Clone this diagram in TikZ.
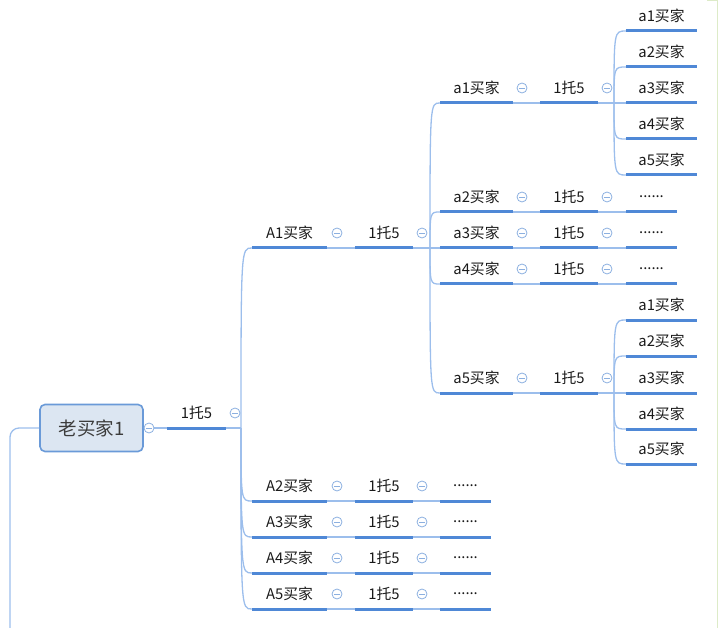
\documentclass[tikz,border=0pt]{standalone}
\usepackage{fontspec}
\newfontfamily\cjk{Noto Sans CJK SC}

\definecolor{rootfill}{HTML}{DCE6F2}
\definecolor{rootline}{HTML}{6A9AD8}
\definecolor{uline}{HTML}{4F88D6}
\definecolor{thin}{HTML}{9CBEEC}
\definecolor{foldc}{HTML}{8CB0E0}
\definecolor{txt}{HTML}{1A1A1A}
\definecolor{framec}{HTML}{DDEBC8}

\tikzset{
  under/.style={draw=uline,line width=3pt},
  link/.style={draw=thin,line width=1.3pt},
  topic/.style={anchor=south,inner sep=0pt,minimum width=#1pt,minimum height=30pt,
                text=txt,font=\cjk\fontsize{14.8}{17}\selectfont,
                append after command={(\tikzlastnode.south west) edge[under] (\tikzlastnode.south east)}},
  fold/.style={circle,draw=foldc,fill=white,line width=0.8pt,minimum size=10pt,inner sep=0pt,
               path picture={\draw[foldc,line width=0.8pt]
                 ([xshift=-2.6pt]path picture bounding box.center) --
                 ([xshift=2.6pt]path picture bounding box.center);}}
}

\begin{document}
\begin{tikzpicture}[x=1pt,y=-1pt]
\useasboundingbox (0,0) rectangle (720,628);
\draw[framec,line width=0.8pt] (707,0.5) -- (717,0.5) -- (717,628);

\node[draw=rootline,fill=rootfill,line width=1.6pt,rounded corners=5pt,
      minimum width=103pt,minimum height=47pt,text=txt!85,
      font=\cjk\fontsize{18.5}{20}\selectfont] (old) at (91.5,428) {老买家1};
\coordinate (down) at (10,628);
\draw[link,rounded corners=9pt] (old.west) -- (old.west -| down) -- (down);

\node[topic=59] (t0) at (196.5,428) {1托5};
\coordinate (br0) at (241,428);

\foreach \i/\y in {1/248,2/501,3/537,4/573,5/609} {
  \node[topic=75] (A\i) at (289.5,\y) {A\i{}买家};
  \node[topic=58] (tA\i) at (384,\y) {1托5};
}
\foreach \i/\y in {2/501,3/537,4/573,5/609}
  \node[topic=51] (dA\i) at (465.5,\y) {......};

\coordinate (brA) at (430,248);
\foreach \j/\y in {1/103,2/212,3/248,4/284,5/393} {
  \node[topic=73] (a\j) at (476.5,\y) {a\j{}买家};
  \node[topic=58] (ta\j) at (569,\y) {1托5};
}
\foreach \j/\y in {2/212,3/248,4/284}
  \node[topic=51] (da\j) at (651.5,\y) {......};

\coordinate (br1) at (614,103);
\coordinate (br5) at (614,393);
\foreach \k/\y in {1/31,2/67,3/103,4/139,5/175}
  \node[topic=71] (b1\k) at (661.5,\y) {a\k{}买家};
\foreach \k/\y in {1/320,2/356,3/393,4/429,5/464}
  \node[topic=71] (b5\k) at (661.5,\y) {a\k{}买家};

\draw[link] (old.east) -- (t0.south west);
\draw[link] (t0.south east) -- (br0);
\foreach \i in {1,...,5} {
  \draw[link] (br0) .. controls (br0 |- A\i.south west) .. (A\i.south west);
  \draw[link] (A\i.south east) -- (tA\i.south west);
}
\foreach \i in {2,...,5}
  \draw[link] (tA\i.south east) -- (dA\i.south west);
\draw[link] (tA1.south east) -- (brA);
\foreach \j in {1,...,5} {
  \draw[link] (brA) .. controls (brA |- a\j.south west) .. (a\j.south west);
  \draw[link] (a\j.south east) -- (ta\j.south west);
}
\foreach \j in {2,3,4}
  \draw[link] (ta\j.south east) -- (da\j.south west);
\draw[link] (ta1.south east) -- (br1);
\draw[link] (ta5.south east) -- (br5);
\foreach \k in {1,...,5} {
  \draw[link] (br1) .. controls (br1 |- b1\k.south west) .. (b1\k.south west);
  \draw[link] (br5) .. controls (br5 |- b5\k.south west) .. (b5\k.south west);
}

\node[fold] (f0) at (149,428) {};
\node[fold] (ft0) at (235,413) {};
\foreach \i/\y in {1/248,2/501,3/537,4/573,5/609} {
  \node[fold] (fA\i) at (337,\y-15) {};
  \node[fold] (ftA\i) at (422,\y-15) {};
}
\foreach \j/\y in {1/103,2/212,3/248,4/284,5/393} {
  \node[fold] (fa\j) at (522,\y-15) {};
  \node[fold] (fta\j) at (607,\y-15) {};
}
\end{tikzpicture}
\end{document}
